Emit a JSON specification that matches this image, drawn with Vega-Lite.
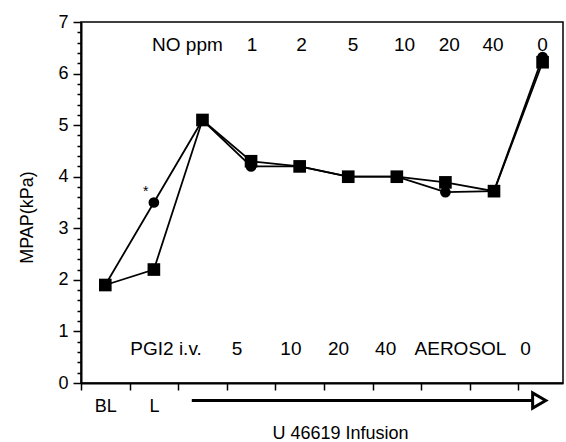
{
  "$schema": "https://vega.github.io/schema/vega-lite/v6.json",
  "width": 482,
  "height": 361,
  "autosize": {"type": "none"},
  "padding": {"left": 81, "top": 22, "right": 3, "bottom": 59},
  "background": "white",
  "config": {
    "font": "Liberation Sans",
    "view": {"stroke": "#000", "strokeWidth": 1.5},
    "axis": {"grid": false, "domainColor": "#000", "domainWidth": 2, "tickColor": "#000", "tickWidth": 1.5, "labelColor": "#000", "titleColor": "#000", "labelFont": "Liberation Sans", "titleFont": "Liberation Sans", "labelFontSize": 18, "titleFontSize": 18, "titleFontWeight": "normal", "labelOverlap": false, "labelFlush": false}
  },
  "datasets": {
    "mpap": [
      {"step": 1, "series": "circle", "value": 1.9},
      {"step": 2, "series": "circle", "value": 3.5},
      {"step": 3, "series": "circle", "value": 5.1},
      {"step": 4, "series": "circle", "value": 4.2},
      {"step": 5, "series": "circle", "value": 4.2},
      {"step": 6, "series": "circle", "value": 4.0},
      {"step": 7, "series": "circle", "value": 4.0},
      {"step": 8, "series": "circle", "value": 3.7},
      {"step": 9, "series": "circle", "value": 3.72},
      {"step": 10, "series": "circle", "value": 6.32},
      {"step": 1, "series": "square", "value": 1.9},
      {"step": 2, "series": "square", "value": 2.2},
      {"step": 3, "series": "square", "value": 5.1},
      {"step": 4, "series": "square", "value": 4.3},
      {"step": 5, "series": "square", "value": 4.2},
      {"step": 6, "series": "square", "value": 4.0},
      {"step": 7, "series": "square", "value": 4.0},
      {"step": 8, "series": "square", "value": 3.89},
      {"step": 9, "series": "square", "value": 3.72},
      {"step": 10, "series": "square", "value": 6.22}
    ],
    "notes": [
      {"x": 2.69, "y": 6.55, "text": "NO ppm"},
      {"x": 4.02, "y": 6.55, "text": "1"},
      {"x": 5.04, "y": 6.55, "text": "2"},
      {"x": 6.1, "y": 6.55, "text": "5"},
      {"x": 7.16, "y": 6.55, "text": "10"},
      {"x": 8.08, "y": 6.55, "text": "20"},
      {"x": 8.98, "y": 6.55, "text": "40"},
      {"x": 10.0, "y": 6.55, "text": "0"},
      {"x": 2.25, "y": 0.66, "text": "PGI2 i.v."},
      {"x": 3.71, "y": 0.66, "text": "5"},
      {"x": 4.82, "y": 0.66, "text": "10"},
      {"x": 5.8, "y": 0.66, "text": "20"},
      {"x": 6.77, "y": 0.66, "text": "40"},
      {"x": 8.31, "y": 0.66, "text": "AEROSOL"},
      {"x": 9.65, "y": 0.66, "text": "0"}
    ],
    "star": [{"x": 1.83, "y": 3.7, "text": "*"}],
    "arrow": [{"x": 2.78, "x2": 9.8, "y": -0.34}],
    "head": [{"x": 9.93, "y": -0.34}]
  },
  "resolve": {"axis": {"x": "independent", "y": "independent"}},
  "layer": [
    {
      "data": {"name": "mpap"},
      "mark": {"type": "line", "color": "#000", "strokeWidth": 1.8},
      "encoding": {
        "x": {
          "field": "step", "type": "quantitative",
          "scale": {"domain": [0.5, 10.42], "nice": false, "zero": false},
          "axis": {
            "title": "U 46619 Infusion",
            "values": [0.5, 1.5, 2.5, 3.5, 4.5, 5.5, 6.5, 7.5, 8.5, 9.5],
            "tickSize": 7,
            "labels": false,
            "offset": 0,
            "titleX": 259,
            "titleY": 50,
            "titleBaseline": "middle"
          }
        },
        "y": {
          "field": "value", "type": "quantitative",
          "scale": {"domain": [0, 7], "nice": false},
          "axis": {
            "title": "MPAP(kPa)",
            "values": [0, 1, 2, 3, 4, 5, 6, 7],
            "format": "d",
            "tickSize": 8,
            "labelPadding": 5,
            "offset": 0,
            "titleX": -54,
            "titleY": 195,
            "titleBaseline": "middle"
          }
        },
        "detail": {"field": "series"}
      }
    },
    {
      "data": {"name": "mpap"},
      "transform": [{"filter": "datum.series == 'circle'"}],
      "mark": {"type": "point", "shape": "circle", "filled": true, "color": "#000", "size": 115, "opacity": 1},
      "encoding": {
        "x": {"field": "step", "type": "quantitative",
          "axis": {"orient": "bottom", "offset": 0, "values": [1, 2], "labelExpr": "datum.value == 1 ? 'BL' : 'L'", "ticks": false, "domain": false, "labelPadding": 14, "title": null}},
        "y": {"field": "value", "type": "quantitative",
          "axis": {"orient": "left", "offset": 0, "values": [0.2, 0.4, 0.6, 0.8, 1.2, 1.4, 1.6, 1.8, 2.2, 2.4, 2.6, 2.8, 3.2, 3.4, 3.6, 3.8, 4.2, 4.4, 4.6, 4.8, 5.2, 5.4, 5.6, 5.8, 6.2, 6.4, 6.6, 6.8], "tickSize": 4, "labels": false, "domain": false, "title": null}}
      }
    },
    {
      "data": {"name": "mpap"},
      "transform": [{"filter": "datum.series == 'square'"}],
      "mark": {"type": "point", "shape": "square", "filled": true, "color": "#000", "size": 160, "opacity": 1},
      "encoding": {
        "x": {"field": "step", "type": "quantitative", "axis": null},
        "y": {"field": "value", "type": "quantitative", "axis": null}
      }
    },
    {
      "data": {"name": "notes"},
      "mark": {"type": "text", "fontSize": 19, "color": "#000", "align": "center", "baseline": "middle"},
      "encoding": {
        "x": {"field": "x", "type": "quantitative", "axis": null},
        "y": {"field": "y", "type": "quantitative", "axis": null},
        "text": {"field": "text"}
      }
    },
    {
      "data": {"name": "star"},
      "mark": {"type": "text", "fontSize": 14, "color": "#000", "align": "center", "baseline": "middle"},
      "encoding": {
        "x": {"field": "x", "type": "quantitative", "axis": null},
        "y": {"field": "y", "type": "quantitative", "axis": null},
        "text": {"field": "text"}
      }
    },
    {
      "data": {"name": "arrow"},
      "mark": {"type": "rule", "color": "#000", "strokeWidth": 3},
      "encoding": {
        "x": {"field": "x", "type": "quantitative", "axis": null},
        "x2": {"field": "x2"},
        "y": {"field": "y", "type": "quantitative", "axis": null}
      }
    },
    {
      "data": {"name": "head"},
      "mark": {"type": "point", "shape": "triangle-right", "filled": true, "fill": "white", "stroke": "#000", "strokeWidth": 3, "size": 230, "opacity": 1},
      "encoding": {
        "x": {"field": "x", "type": "quantitative", "axis": null},
        "y": {"field": "y", "type": "quantitative", "axis": null}
      }
    }
  ]
}
